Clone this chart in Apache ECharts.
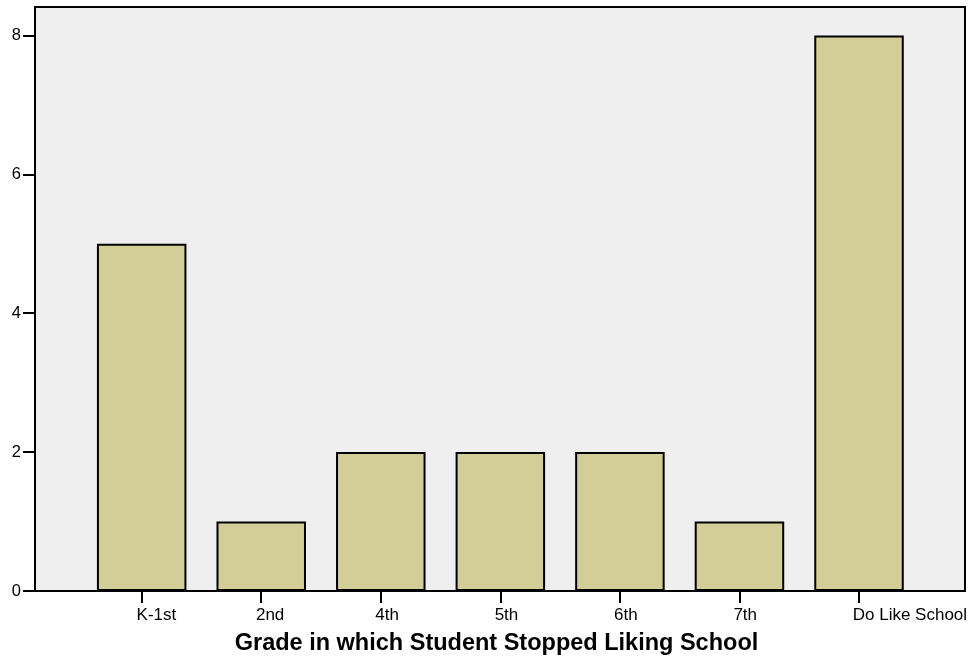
<!DOCTYPE html>
<html>
<head>
<meta charset="utf-8">
<script src="https://cdn.jsdelivr.net/npm/echarts@6/dist/echarts.min.js"></script>
<style>
html,body{margin:0;padding:0;background:#fff;}
#chart{width:970px;height:662px;}
</style>
</head>
<body>
<div id="chart"></div>
<script>
var categories = ['K-1st', '2nd', '4th', '5th', '6th', '7th', 'Do Like School'];
var counts = [5, 1, 2, 2, 2, 1, 8];
var yTicks = [0, 2, 4, 6, 8];
var axisTitle = 'Grade in which Student Stopped Liking School';

var FONT = '"Liberation Sans", Arial, Helvetica, sans-serif';
var yMax = 8.41;
var plotTop = 7, plotHeight = 584;
var bandLeft = 81.9, bandWidth = 836.9;

var chart = echarts.init(document.getElementById('chart'), null, {renderer: 'canvas'});
chart.setOption({
  animation: false,
  backgroundColor: '#ffffff',
  grid: [
    {left: 35, top: plotTop, width: 930, height: plotHeight, show: true,
     backgroundColor: '#efefef', borderColor: '#000000', borderWidth: 2},
    {left: bandLeft, top: plotTop, width: bandWidth, height: plotHeight},
    {left: bandLeft - 5, top: plotTop, width: bandWidth, height: plotHeight}
  ],
  xAxis: [
    {gridIndex: 0, type: 'value', min: 0, max: 1, show: false},
    {gridIndex: 1, type: 'category', data: categories, boundaryGap: true,
     axisLine: {show: false},
     axisTick: {show: true, alignWithLabel: true, inside: false, length: 12,
                lineStyle: {color: '#000', width: 2}},
     axisLabel: {show: false}, splitLine: {show: false}},
    {gridIndex: 2, type: 'category', data: categories, boundaryGap: true,
     axisLine: {show: false}, axisTick: {show: false}, splitLine: {show: false},
     axisLabel: {show: true, interval: 0, align: 'left', margin: 16,
                 fontSize: 17, color: '#000', fontFamily: FONT}}
  ],
  yAxis: [
    {gridIndex: 0, type: 'value', min: 0, max: yMax,
     axisLine: {show: false},
     axisTick: {show: true, inside: false, length: 12, customValues: yTicks,
                lineStyle: {color: '#000', width: 2}},
     axisLabel: {show: true, customValues: yTicks, margin: 14, fontSize: 16.5,
                 color: '#000', fontFamily: FONT, padding: [3, 0, 0, 0]},
     splitLine: {show: false}},
    {gridIndex: 1, type: 'value', min: 0, max: yMax, show: false},
    {gridIndex: 2, type: 'value', min: 0, max: yMax, show: false}
  ],
  series: [{
    type: 'bar',
    xAxisIndex: 1, yAxisIndex: 1,
    data: counts,
    barWidth: 89.5,
    itemStyle: {color: '#d3ce98', borderColor: '#000', borderWidth: 2},
    silent: true
  }],
  graphic: [{
    type: 'text',
    x: 496.5, y: 643.5,
    style: {text: axisTitle, font: 'bold 23.5px ' + FONT, fill: '#000',
            textAlign: 'center', textVerticalAlign: 'middle'}
  }]
});
</script>
</body>
</html>
